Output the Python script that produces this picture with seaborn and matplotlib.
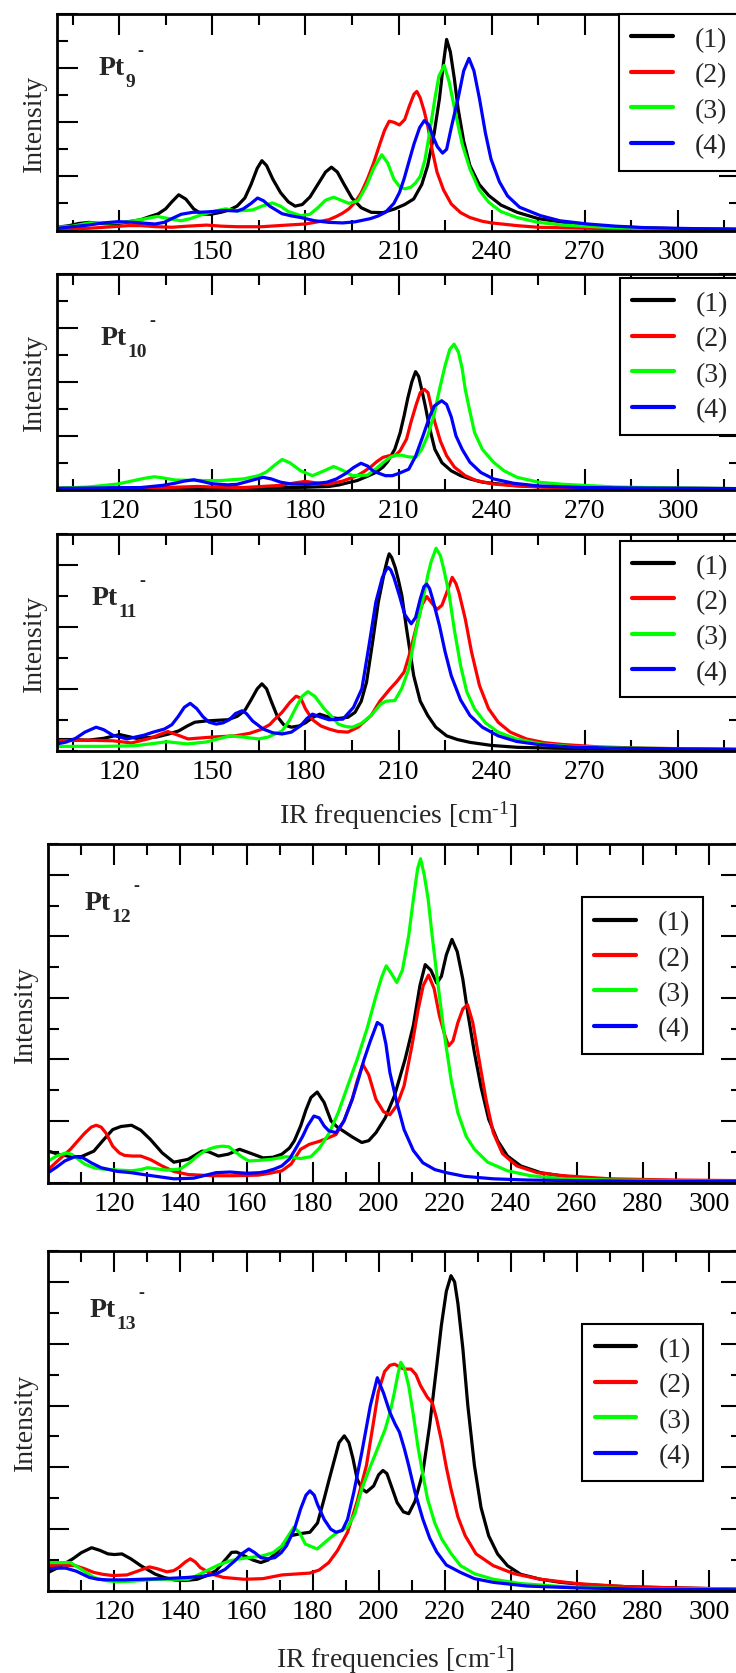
import numpy as np
import pandas as pd
import matplotlib
matplotlib.use("Agg")
import matplotlib.pyplot as plt
import seaborn as sns

# ---------------- spectra (frequency in cm^-1, intensity in arb. units) ----------------
SERIES = ["(1)", "(2)", "(3)", "(4)"]
COLORS = {"(1)": "#000000", "(2)": "#ff0000", "(3)": "#00ff00", "(4)": "#0000ff"}

# Pt9-
pt9_1_x = [100, 104, 107, 110.4, 114, 118, 121, 124, 127, 130, 132.5, 135, 137, 139.2, 141.5, 144, 146.7, 149.5, 152.8, 155.5, 158, 160.5, 162.5, 164.5, 166, 167.5, 169.5, 172, 174.5, 176.7, 179, 181.5, 184, 186.5, 188.4, 190.3, 192.5, 195, 198, 201.2, 205, 208.8, 212, 214.9, 217.5, 219.4, 221.5, 223.2, 224.5, 225.5, 226.7, 228, 229.2, 231, 233, 236, 239.1, 243, 248.2, 255, 263.3, 270, 278.4, 290, 300, 320]
pt9_1_y = [0.06, 0.09, 0.13, 0.15, 0.13, 0.12, 0.14, 0.17, 0.2, 0.26, 0.305, 0.4, 0.53, 0.66, 0.58, 0.4, 0.30, 0.30, 0.336, 0.38, 0.45, 0.6, 0.85, 1.15, 1.29, 1.2, 0.95, 0.7, 0.53, 0.45, 0.48, 0.62, 0.85, 1.08, 1.17, 1.08, 0.85, 0.6, 0.42, 0.336, 0.33, 0.40, 0.48, 0.583, 0.85, 1.20, 1.8, 2.44, 3.1, 3.53, 3.3, 2.8, 2.25, 1.65, 1.20, 0.85, 0.645, 0.47, 0.336, 0.22, 0.15, 0.11, 0.07, 0.05, 0.035, 0.02]
pt9_2_x = [100, 110, 118, 123, 127, 132, 137, 142, 148.2, 153, 158, 166, 174, 180, 184, 187.6, 190, 192, 194, 196, 198, 200, 202, 204, 205.5, 207, 208.5, 210.3, 212, 213.5, 215, 215.9, 217, 218.3, 219.4, 220.8, 222.4, 224.5, 227, 230, 233, 237, 240, 248.2, 255, 263, 280, 300, 320]
pt9_2_y = [0.03, 0.04, 0.07, 0.09, 0.09, 0.07, 0.06, 0.08, 0.1, 0.08, 0.07, 0.07, 0.1, 0.12, 0.16, 0.2, 0.26, 0.32, 0.4, 0.52, 0.7, 0.95, 1.25, 1.6, 1.85, 2.02, 2.0, 1.95, 2.05, 2.3, 2.52, 2.57, 2.45, 2.2, 1.94, 1.5, 1.08, 0.75, 0.49, 0.33, 0.24, 0.17, 0.14, 0.09, 0.06, 0.05, 0.03, 0.025, 0.02]
pt9_3_x = [100, 105, 110.4, 116, 121, 127, 132.3, 136, 139.9, 143, 147, 151, 154.3, 158, 163, 166, 169.4, 172, 174.5, 178.5, 181.5, 184, 186.5, 189.1, 191.5, 194, 197, 199.7, 202, 204.6, 206.5, 208.5, 210.5, 212.1, 214, 215.5, 217, 218.5, 220, 221.7, 223, 224.7, 226.3, 228.5, 230.5, 233, 236, 239.1, 243, 248.2, 255, 263, 280, 300, 320]
pt9_3_y = [0.06, 0.08, 0.14, 0.14, 0.15, 0.2, 0.26, 0.22, 0.18, 0.22, 0.3, 0.36, 0.4, 0.36, 0.38, 0.45, 0.51, 0.45, 0.35, 0.275, 0.3, 0.42, 0.56, 0.614, 0.56, 0.5, 0.55, 0.83, 1.15, 1.4, 1.25, 0.95, 0.8, 0.77, 0.8, 0.88, 1.0, 1.3, 1.8, 2.43, 2.85, 3.05, 2.75, 2.13, 1.6, 1.14, 0.75, 0.52, 0.35, 0.24, 0.15, 0.1, 0.05, 0.03, 0.02]
pt9_4_x = [100, 105, 110, 115, 119.5, 125, 131.6, 134.5, 137, 140, 143.7, 147, 150, 154.3, 158, 160, 162.5, 164.6, 166.5, 168.5, 172.5, 175.5, 178.5, 183, 187.6, 192, 196, 201, 203.5, 205.8, 208.5, 210.3, 211.8, 213.5, 215, 216.8, 218.3, 219.8, 221, 222.5, 224.2, 225.5, 227, 228.2, 229.2, 231, 232.7, 234.3, 236.1, 238, 239.8, 242.5, 245.1, 249, 255.7, 262, 270.9, 280, 290, 305, 320]
pt9_4_y = [0.04, 0.07, 0.1, 0.14, 0.163, 0.15, 0.12, 0.15, 0.22, 0.3, 0.336, 0.34, 0.35, 0.37, 0.36, 0.4, 0.5, 0.6, 0.55, 0.45, 0.31, 0.27, 0.24, 0.18, 0.15, 0.14, 0.16, 0.22, 0.27, 0.336, 0.5, 0.7, 0.954, 1.3, 1.6, 1.9, 2.03, 1.95, 1.75, 1.55, 1.43, 1.5, 1.9, 2.2, 2.44, 2.95, 3.18, 2.95, 2.43, 1.8, 1.32, 0.9, 0.64, 0.43, 0.275, 0.18, 0.12, 0.08, 0.05, 0.035, 0.025]

# Pt10-
pt10_1_x = [100, 150, 170, 180, 187.6, 191, 193, 196.7, 200, 202.7, 205, 206.5, 208.8, 210.5, 211.8, 213, 214.3, 215.5, 216.5, 217.5, 218.6, 220, 221.7, 224, 227, 230, 233, 237, 240, 248, 256, 265, 280, 320]
pt10_1_y = [0.025, 0.03, 0.035, 0.045, 0.06, 0.09, 0.12, 0.17, 0.25, 0.32, 0.42, 0.52, 0.75, 1.05, 1.37, 1.7, 2.0, 2.19, 2.1, 1.85, 1.56, 1.15, 0.75, 0.5, 0.35, 0.26, 0.2, 0.14, 0.12, 0.075, 0.055, 0.04, 0.03, 0.02]
pt10_2_x = [100, 130, 140, 145.2, 150, 160, 166, 172, 176, 180, 183, 187, 192, 196.7, 199, 201, 203, 205, 207, 208.8, 210.5, 212.6, 214, 215.6, 217, 218.3, 219.5, 220.5, 221.7, 223.5, 225.5, 228, 231.5, 235, 240.6, 248, 255, 270, 290, 320]
pt10_2_y = [0.025, 0.03, 0.05, 0.06, 0.05, 0.04, 0.06, 0.08, 0.12, 0.155, 0.13, 0.1, 0.16, 0.26, 0.34, 0.42, 0.52, 0.6, 0.63, 0.63, 0.72, 0.94, 1.25, 1.56, 1.8, 1.86, 1.8, 1.55, 1.25, 0.9, 0.63, 0.42, 0.26, 0.17, 0.105, 0.07, 0.05, 0.035, 0.025, 0.02]
pt10_3_x = [100, 110, 119.5, 124, 128, 131.3, 134, 138, 145, 152.8, 160, 164.9, 167.5, 170, 172.5, 175, 178.5, 182.3, 186, 189.1, 192, 195.2, 200, 203, 205, 207.3, 209, 211.1, 213, 215.6, 217.5, 219.4, 221.5, 223.2, 225, 226.5, 227.9, 229.3, 230.5, 231.5, 233, 234.5, 237, 240.6, 244, 248.2, 255, 263, 280, 300, 320]
pt10_3_y = [0.025, 0.05, 0.105, 0.16, 0.21, 0.24, 0.22, 0.18, 0.17, 0.17, 0.2, 0.26, 0.33, 0.45, 0.56, 0.5, 0.35, 0.26, 0.35, 0.43, 0.36, 0.26, 0.27, 0.4, 0.5, 0.6, 0.64, 0.64, 0.61, 0.6, 0.75, 1.0, 1.4, 1.86, 2.3, 2.6, 2.70, 2.55, 2.25, 1.86, 1.45, 1.06, 0.75, 0.51, 0.35, 0.23, 0.14, 0.1, 0.05, 0.03, 0.02]
pt10_4_x = [100, 127, 134, 138, 141, 144.1, 147, 150, 155, 158, 162.5, 166.4, 169, 172, 175.5, 181, 187, 190, 193, 195.5, 197.9, 200, 202, 205.8, 208, 210, 213.3, 215.5, 217.9, 220, 221.5, 223.9, 225.5, 227, 228.5, 230.5, 233, 236.5, 240.6, 247, 255, 270, 290, 320]
pt10_4_y = [0.025, 0.04, 0.08, 0.12, 0.16, 0.185, 0.15, 0.11, 0.09, 0.1, 0.17, 0.23, 0.2, 0.14, 0.105, 0.1, 0.14, 0.2, 0.3, 0.41, 0.49, 0.44, 0.34, 0.26, 0.26, 0.3, 0.38, 0.62, 1.0, 1.35, 1.55, 1.65, 1.58, 1.35, 1.0, 0.75, 0.51, 0.32, 0.2, 0.12, 0.07, 0.04, 0.03, 0.02]

# Pt11-
pt11_1_x = [100, 105, 110, 115, 120.2, 125.5, 132, 136, 139.2, 142, 144.4, 148, 151.3, 155, 158.1, 160.5, 162.5, 164.5, 166, 167.5, 169, 171, 173, 175.5, 178, 180, 182.5, 184.6, 187.6, 190.5, 193.7, 196, 198, 199.7, 201.5, 203.5, 205.5, 206.5, 207, 207.8, 209, 210, 211.1, 212.5, 214.9, 217, 219.4, 222, 225.5, 229, 233, 240, 248.2, 260, 280, 320]
pt11_1_y = [0.18, 0.18, 0.17, 0.2, 0.26, 0.20, 0.22, 0.27, 0.32, 0.4, 0.46, 0.48, 0.49, 0.5, 0.556, 0.65, 0.82, 1.0, 1.08, 1.0, 0.8, 0.55, 0.42, 0.38, 0.4, 0.45, 0.54, 0.59, 0.54, 0.52, 0.54, 0.62, 0.8, 1.105, 1.7, 2.4, 2.9, 3.1, 3.18, 3.12, 2.95, 2.75, 2.5, 2.0, 1.21, 0.8, 0.57, 0.38, 0.24, 0.18, 0.135, 0.085, 0.055, 0.04, 0.03, 0.02]
pt11_2_x = [100, 110, 118, 124, 130, 133, 135.7, 139, 142.2, 150, 157.3, 162, 165.6, 168.5, 170, 172.5, 175, 177, 178.5, 180, 182.3, 185, 187.6, 190.5, 193.7, 197, 201.2, 204, 207.3, 209.5, 211.8, 213.5, 215.6, 217.5, 219.1, 220.5, 222.4, 224, 225.5, 227.3, 228.5, 229.5, 231.5, 233.5, 236.1, 239, 242.1, 246, 251.2, 257, 263, 275, 290, 320]
pt11_2_y = [0.16, 0.17, 0.16, 0.125, 0.2, 0.26, 0.31, 0.25, 0.19, 0.22, 0.24, 0.28, 0.34, 0.42, 0.5, 0.62, 0.78, 0.88, 0.85, 0.68, 0.5, 0.4, 0.35, 0.31, 0.30, 0.38, 0.57, 0.8, 1.0, 1.12, 1.27, 1.55, 1.97, 2.35, 2.49, 2.4, 2.28, 2.35, 2.55, 2.8, 2.7, 2.55, 2.13, 1.6, 1.05, 0.68, 0.46, 0.3, 0.19, 0.13, 0.1, 0.06, 0.04, 0.02]
pt11_3_x = [100, 115, 125, 130, 135.4, 140, 142, 148, 155.8, 160, 164.9, 168, 172.5, 175, 177, 179, 180.8, 183, 186.1, 188.5, 190.6, 193, 195.2, 198, 201.2, 204.3, 206, 208.8, 211, 213.3, 215.5, 217.9, 219.5, 220.5, 222.1, 223.5, 224.5, 226.2, 228, 230, 232, 234.5, 238, 242.1, 248, 255.7, 265, 280, 320]
pt11_3_y = [0.07, 0.07, 0.08, 0.11, 0.145, 0.12, 0.11, 0.14, 0.24, 0.22, 0.19, 0.22, 0.32, 0.5, 0.7, 0.88, 0.954, 0.88, 0.675, 0.55, 0.43, 0.39, 0.38, 0.44, 0.57, 0.755, 0.8, 0.81, 1.0, 1.32, 1.9, 2.45, 2.85, 3.05, 3.27, 3.15, 2.95, 2.56, 1.95, 1.375, 0.95, 0.675, 0.45, 0.30, 0.19, 0.11, 0.07, 0.045, 0.02]
pt11_4_x = [100, 103, 106, 109, 112.6, 115, 118, 122.5, 128, 131, 134.6, 137, 139, 141, 142.9, 145, 147, 149, 151.3, 153.5, 155.5, 157.5, 159.6, 161, 163, 166.4, 169.5, 172.5, 175.5, 178.5, 180.5, 182.3, 184.5, 187.6, 192.1, 195.5, 198.2, 200.5, 202.7, 204.8, 206, 206.7, 207.5, 208.5, 210.3, 212, 214.1, 215.5, 217, 218.2, 219.1, 220, 221, 223.2, 225, 227, 230, 233, 237, 242.1, 248, 255, 265, 280, 320]
pt11_4_y = [0.11, 0.14, 0.2, 0.3, 0.38, 0.34, 0.25, 0.19, 0.25, 0.3, 0.35, 0.42, 0.55, 0.7, 0.765, 0.68, 0.55, 0.46, 0.43, 0.45, 0.5, 0.6, 0.645, 0.6, 0.48, 0.35, 0.29, 0.27, 0.3, 0.405, 0.52, 0.59, 0.55, 0.50, 0.51, 0.7, 1.0, 1.7, 2.40, 2.8, 2.92, 2.96, 2.92, 2.8, 2.505, 2.2, 2.05, 2.15, 2.45, 2.65, 2.69, 2.62, 2.45, 2.02, 1.6, 1.21, 0.82, 0.57, 0.38, 0.24, 0.15, 0.1, 0.06, 0.04, 0.02]

# Pt12-
pt12_1_x = [100, 103, 106.7, 110, 113.8, 116.5, 119.5, 122, 125.2, 128, 130.9, 134.5, 138, 142.3, 146.5, 148.5, 151.5, 154.5, 157.9, 161.5, 165, 168, 170.7, 173, 174.5, 176.4, 178, 179.5, 181.4, 183.5, 185.6, 187.5, 189.2, 192, 194.9, 197, 199.2, 202, 204.8, 208, 210.5, 212.5, 214.1, 215.8, 217.6, 219, 220.5, 222.2, 223.8, 225.5, 227, 229, 231, 233.3, 236, 239, 243, 249, 255, 263.2, 275, 290, 310]
pt12_1_y = [0.51, 0.46, 0.42, 0.42, 0.51, 0.68, 0.86, 0.91, 0.93, 0.85, 0.70, 0.48, 0.33, 0.376, 0.51, 0.5, 0.43, 0.46, 0.54, 0.47, 0.40, 0.41, 0.46, 0.56, 0.68, 0.92, 1.18, 1.38, 1.47, 1.3, 1.0, 0.9, 0.84, 0.74, 0.65, 0.68, 0.81, 1.05, 1.41, 2.0, 2.55, 3.2, 3.54, 3.45, 3.24, 3.35, 3.7, 3.95, 3.75, 3.3, 2.75, 2.11, 1.55, 1.03, 0.68, 0.43, 0.27, 0.16, 0.11, 0.06, 0.04, 0.03, 0.02]
pt12_2_x = [100, 103, 106.7, 109, 111, 113, 114.5, 116, 117.5, 119.5, 121.5, 123.1, 125.5, 128, 131, 134.4, 138, 142.3, 149.4, 156, 163.6, 167, 170.7, 173.5, 176.4, 179, 182.1, 184.5, 187.1, 189.5, 192, 193.5, 195.2, 197, 199.2, 201.5, 203.4, 205.5, 207.7, 210, 212, 213.5, 215.1, 216.8, 218.4, 220, 221.2, 222.5, 224, 225.5, 226.9, 228.5, 230.4, 232.5, 234.7, 237.5, 241.8, 248, 256, 270, 290, 310]
pt12_2_y = [0.21, 0.36, 0.54, 0.68, 0.8, 0.9, 0.93, 0.9, 0.8, 0.59, 0.48, 0.44, 0.43, 0.43, 0.37, 0.27, 0.18, 0.13, 0.11, 0.11, 0.12, 0.15, 0.19, 0.3, 0.54, 0.62, 0.67, 0.72, 0.78, 1.0, 1.35, 1.65, 1.92, 1.75, 1.35, 1.15, 1.10, 1.25, 1.57, 2.2, 2.82, 3.2, 3.37, 3.15, 2.71, 2.4, 2.22, 2.3, 2.6, 2.82, 2.89, 2.6, 2.0, 1.35, 0.81, 0.47, 0.27, 0.16, 0.11, 0.06, 0.04, 0.03]
pt12_3_x = [100, 102.5, 105.3, 107, 109, 111, 113.8, 116, 119, 122, 125.2, 128, 130, 133, 136, 140, 143, 145.1, 147, 149, 151, 152.9, 154.7, 156.5, 158.5, 160.7, 164, 167.9, 172, 176.4, 179.5, 182.1, 185, 187.8, 190.5, 193.5, 196.5, 199.2, 201, 202.3, 203.8, 205.5, 207.2, 209.1, 210.5, 211.8, 212.7, 213.8, 215, 216.2, 218, 219.8, 222, 224, 226.5, 229, 233, 239, 246, 256, 270, 290, 310]
pt12_3_y = [0.35, 0.43, 0.48, 0.46, 0.38, 0.3, 0.24, 0.22, 0.21, 0.2, 0.19, 0.21, 0.24, 0.22, 0.2, 0.22, 0.33, 0.43, 0.5, 0.55, 0.58, 0.59, 0.58, 0.5, 0.42, 0.35, 0.36, 0.38, 0.42, 0.39, 0.42, 0.56, 0.8, 1.14, 1.55, 2.0, 2.5, 3.03, 3.35, 3.52, 3.4, 3.25, 3.45, 4.01, 4.6, 5.1, 5.26, 5.0, 4.6, 4.01, 3.2, 2.44, 1.65, 1.13, 0.75, 0.54, 0.33, 0.19, 0.11, 0.06, 0.04, 0.03, 0.02]
pt12_4_x = [100, 102.5, 105, 108.1, 110.5, 113, 116, 120.9, 125, 130, 138, 144, 150.8, 155, 160, 164, 166, 168.5, 170.7, 173, 175, 177, 178.5, 180.4, 182, 183.5, 184.9, 187.1, 189.5, 192, 194, 195.6, 197.5, 199.6, 201, 202.2, 203.4, 205.5, 207.7, 210.5, 213.4, 217, 220.5, 226, 234.7, 245, 260, 280, 310]
pt12_4_y = [0.16, 0.25, 0.35, 0.42, 0.4, 0.32, 0.24, 0.18, 0.16, 0.12, 0.06, 0.07, 0.16, 0.17, 0.15, 0.16, 0.18, 0.22, 0.27, 0.38, 0.56, 0.75, 0.92, 1.08, 1.05, 0.92, 0.84, 0.81, 1.0, 1.35, 1.7, 2.0, 2.3, 2.6, 2.55, 2.25, 1.79, 1.3, 0.86, 0.52, 0.32, 0.21, 0.16, 0.1, 0.06, 0.04, 0.03, 0.02, 0.02]

# Pt13-
pt13_1_x = [100, 103, 107.4, 110, 113.1, 115.5, 118.1, 120, 122.3, 125, 128, 132.3, 135, 138, 141.5, 145.1, 148, 150.8, 153.5, 155.5, 157, 159.3, 162, 164.3, 166.5, 169.3, 171.5, 173.5, 176.5, 179.2, 181.5, 183.5, 185, 186.5, 188, 189.6, 191, 192.2, 193.5, 195, 196.3, 198.5, 200, 201.3, 202.5, 203.5, 205.6, 207.5, 209.1, 211, 213.4, 215.5, 217.6, 219, 220.5, 221.9, 223, 224, 225.5, 227, 229, 231, 233.3, 236, 239, 243, 249, 255, 263.2, 275, 290, 310]
pt13_1_y = [0.30, 0.38, 0.52, 0.62, 0.70, 0.66, 0.60, 0.59, 0.60, 0.52, 0.41, 0.275, 0.22, 0.18, 0.17, 0.19, 0.25, 0.33, 0.5, 0.625, 0.63, 0.57, 0.5, 0.46, 0.5, 0.63, 0.78, 0.895, 0.93, 0.95, 1.1, 1.49, 1.8, 2.1, 2.4, 2.51, 2.4, 2.15, 1.81, 1.65, 1.60, 1.7, 1.88, 1.95, 1.9, 1.75, 1.43, 1.28, 1.25, 1.45, 1.92, 2.7, 3.65, 4.3, 4.85, 5.10, 5.0, 4.65, 3.92, 3.0, 2.03, 1.35, 0.895, 0.6, 0.41, 0.27, 0.19, 0.14, 0.1, 0.07, 0.05, 0.03]
pt13_2_x = [100, 104, 108.1, 111, 113.8, 116.5, 119.5, 123.8, 127.5, 130.6, 133, 135.9, 138, 139.5, 141.5, 143, 144.5, 146, 149.4, 153, 159.3, 165, 170.7, 179.2, 182, 184.9, 187.5, 190.6, 193.5, 196.3, 198.2, 199.9, 201.8, 203.4, 204.8, 206.2, 207.7, 209.8, 211.3, 212.7, 214.8, 216.2, 217.5, 219.1, 220.5, 221.9, 224, 226.2, 229.5, 234.7, 241, 249, 260, 275, 290, 310]
pt13_2_y = [0.41, 0.42, 0.41, 0.36, 0.30, 0.27, 0.25, 0.26, 0.33, 0.39, 0.36, 0.31, 0.33, 0.38, 0.47, 0.52, 0.47, 0.38, 0.275, 0.22, 0.19, 0.2, 0.26, 0.29, 0.34, 0.46, 0.65, 0.95, 1.45, 2.03, 2.65, 3.22, 3.55, 3.65, 3.67, 3.63, 3.59, 3.59, 3.5, 3.32, 3.13, 3.05, 2.8, 2.41, 2.0, 1.65, 1.2, 0.895, 0.6, 0.41, 0.28, 0.19, 0.12, 0.07, 0.05, 0.03]
pt13_3_x = [100, 106.7, 110, 113.8, 117, 120.9, 126, 132.3, 137, 142.3, 145, 148, 151.5, 155.1, 158, 160.7, 165, 168, 170.7, 172.5, 174.3, 176, 177.8, 181.4, 184.9, 187.5, 190.6, 192.8, 194.9, 197, 199.2, 202, 203.5, 204.8, 205.8, 206.7, 207.8, 209.1, 210.5, 212, 213.5, 214.8, 217, 219.1, 222, 224.8, 229, 234.7, 243, 256, 275, 310]
pt13_3_y = [0.46, 0.46, 0.35, 0.22, 0.17, 0.15, 0.16, 0.19, 0.19, 0.19, 0.25, 0.33, 0.42, 0.49, 0.52, 0.54, 0.57, 0.62, 0.73, 0.88, 1.03, 0.95, 0.76, 0.68, 0.84, 0.95, 1.03, 1.25, 1.65, 1.95, 2.24, 2.62, 2.9, 3.22, 3.5, 3.70, 3.6, 3.32, 2.85, 2.30, 1.85, 1.49, 1.1, 0.84, 0.6, 0.41, 0.28, 0.19, 0.12, 0.07, 0.04, 0.03]
pt13_4_x = [100, 103, 105.3, 108.5, 112.4, 115, 118.1, 123, 128, 135, 142.3, 147, 150.8, 153.5, 156.5, 158.5, 160.7, 162.5, 164.3, 166.5, 168.6, 170.5, 172.1, 174.5, 176.4, 178, 179.2, 180.5, 181.5, 183.5, 185.5, 187.1, 189, 190.6, 192.5, 194.9, 197.5, 199.6, 201.5, 203.4, 205, 206.3, 207.8, 209.1, 211, 213.4, 215.5, 217.6, 220.5, 224.8, 229, 234.7, 245, 260, 280, 310]
pt13_4_y = [0.36, 0.37, 0.37, 0.32, 0.22, 0.19, 0.18, 0.18, 0.19, 0.2, 0.22, 0.24, 0.275, 0.35, 0.49, 0.6, 0.68, 0.62, 0.54, 0.52, 0.54, 0.62, 0.73, 1.0, 1.33, 1.55, 1.62, 1.55, 1.4, 1.16, 1.0, 0.95, 0.98, 1.16, 1.6, 2.24, 3.0, 3.45, 3.2, 2.89, 2.7, 2.57, 2.3, 2.03, 1.6, 1.16, 0.85, 0.63, 0.42, 0.30, 0.2, 0.14, 0.08, 0.05, 0.03, 0.02]

# axis ranges / ticks
xlim_small, xlim_big = (100, 320), (100, 310)
xmajor_small, xminor_small = list(range(120, 301, 30)), list(range(105, 316, 30))
xmajor_big, xminor_big = list(range(120, 301, 20)), list(range(110, 311, 20))

# ---------------- style ----------------
sns.set_style("ticks")
plt.rcParams["font.family"] = ["Liberation Serif", "DejaVu Serif"]
plt.rcParams.update({
    "mathtext.fontset": "custom",
    "mathtext.rm": "Liberation Serif",
    "mathtext.it": "Liberation Serif:italic",
    "mathtext.bf": "Liberation Serif:bold",
    "axes.linewidth": 2.0,
    "axes.edgecolor": "black",
    "xtick.color": "black",
    "ytick.color": "black",
})

W, H = 736, 1674
fig = plt.figure(figsize=(W / 100, H / 100), dpi=100)
fig.patch.set_facecolor("white")
renderer = fig.canvas.get_renderer()


def axes_px(left, top, right, bottom):
    return fig.add_axes([left / W, 1 - bottom / H, (right - left) / W, (bottom - top) / H])


def long_frame(xs, ys):
    parts = []
    for name, x, y in zip(SERIES, xs, ys):
        parts.append(pd.DataFrame({"freq": x, "intensity": y, "series": name}))
    return pd.concat(parts, ignore_index=True)


def species_label(x_px, base_px, n):
    """Bold 'Pt' with a bold subscript cluster size and a small anion dash."""
    t = fig.text(x_px / W, 1 - base_px / H, "Pt", fontsize=20, fontweight="bold",
                 ha="left", va="baseline")
    bb = t.get_window_extent(renderer)
    s = fig.text((bb.x1 + 0.5) / W, 1 - (base_px + 12) / H, n, fontsize=14,
                 fontweight="bold", ha="left", va="baseline")
    bs = s.get_window_extent(renderer)
    fig.text((bs.x1 + 2) / W, 1 - (base_px - 19) / H, "-", fontsize=13,
             fontweight="bold", ha="left", va="baseline")


panels = [
    dict(n="9", xs=[pt9_1_x, pt9_2_x, pt9_3_x, pt9_4_x], ys=[pt9_1_y, pt9_2_y, pt9_3_y, pt9_4_y],
         box=(57, 15, 740, 231.5), ylim=(0, 4.0), big=False, leg=(618.7, 15), lab=(99, 75), xlabel=None),
    dict(n="10", xs=[pt10_1_x, pt10_2_x, pt10_3_x, pt10_4_x], ys=[pt10_1_y, pt10_2_y, pt10_3_y, pt10_4_y],
         box=(57, 275, 740, 490.7), ylim=(0, 4.0), big=False, leg=(619.6, 279), lab=(101, 345), xlabel=None),
    dict(n="11", xs=[pt11_1_x, pt11_2_x, pt11_3_x, pt11_4_x], ys=[pt11_1_y, pt11_2_y, pt11_3_y, pt11_4_y],
         box=(57, 535, 740, 751.7), ylim=(0, 3.5), big=False, leg=(619.6, 541.7), lab=(92, 605), xlabel=824),
    dict(n="12", xs=[pt12_1_x, pt12_2_x, pt12_3_x, pt12_4_x], ys=[pt12_1_y, pt12_2_y, pt12_3_y, pt12_4_y],
         box=(48.3, 845, 742, 1183.5), ylim=(0, 5.5), big=True, leg=(581.7, 898.3), lab=(85, 910), xlabel=None),
    dict(n="13", xs=[pt13_1_x, pt13_2_x, pt13_3_x, pt13_4_x], ys=[pt13_1_y, pt13_2_y, pt13_3_y, pt13_4_y],
         box=(48.3, 1252, 742, 1592), ylim=(0, 5.5), big=True, leg=(582, 1325), lab=(90, 1317), xlabel=1668),
]

for p in panels:
    left, top, right, bottom = p["box"]
    wpx, hpx = right - left, bottom - top
    ax = axes_px(left, top, right, bottom)
    df = long_frame(p["xs"], p["ys"])
    sns.lineplot(data=df, x="freq", y="intensity", hue="series", hue_order=SERIES,
                 palette=COLORS, linewidth=2.3, estimator=None, sort=False, ax=ax)

    if p["big"]:
        ax.set_xlim(*xlim_big)
        ax.set_xticks(xmajor_big)
        ax.set_xticks(xminor_big, minor=True)
    else:
        ax.set_xlim(*xlim_small)
        ax.set_xticks(xmajor_small)
        ax.set_xticks(xminor_small, minor=True)
    ax.set_ylim(*p["ylim"])
    ymax = p["ylim"][1]
    ax.set_yticks(np.arange(0, ymax + 0.01, 1.0))
    ax.set_yticks(np.arange(0.5, ymax + 0.01, 1.0), minor=True)
    ax.set_yticklabels([])

    ax.tick_params(which="both", direction="in", top=True, right=True, width=1.5, color="black")
    ax.tick_params(which="major", length=15)
    ax.tick_params(which="minor", length=8)
    ax.tick_params(axis="x", which="major", labelsize=20, pad=6)
    for s in ax.spines.values():
        s.set_linewidth(2.0)
        s.set_color("black")

    ax.set_ylabel("Intensity", fontsize=20)
    ax.yaxis.set_label_coords(-10 / wpx, 0.5)
    if p["xlabel"] is not None:
        ax.set_xlabel("IR frequencies [cm$^{\\mathregular{\u20101}}$]", fontsize=20)
        ax.xaxis.set_label_coords(0.5, -(p["xlabel"] - bottom) / hpx)
        ax.xaxis.label.set_verticalalignment("baseline")
    else:
        ax.set_xlabel("")

    handles, labels = ax.get_legend_handles_labels()
    lx, ly = p["leg"]
    leg = ax.legend(handles, labels, loc="upper left",
                    bbox_to_anchor=((lx - left) / wpx, 1 - (ly - top) / hpx),
                    borderaxespad=0, fontsize=20, frameon=True, fancybox=False,
                    edgecolor="black", framealpha=1, borderpad=0.45, labelspacing=0.36,
                    handlelength=1.5, handletextpad=0.8)
    leg.get_frame().set_linewidth(1.5)
    for ln in leg.get_lines():
        ln.set_linewidth(3.0)

    species_label(p["lab"][0], p["lab"][1], p["n"])

fig.savefig("out.png", dpi=100)
